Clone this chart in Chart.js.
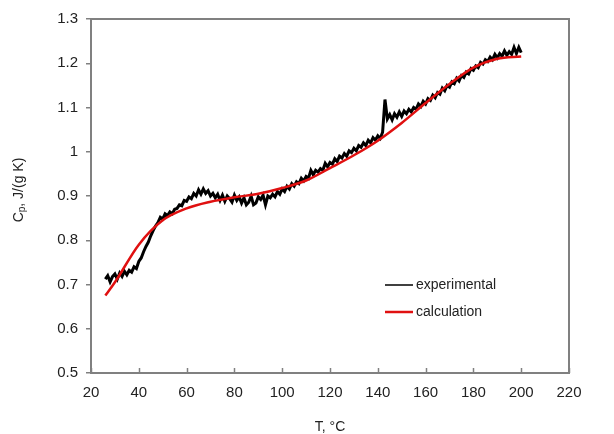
<!DOCTYPE html>
<html>
<head>
<meta charset="utf-8">
<script src="https://cdn.jsdelivr.net/npm/chart.js@4.4.1/dist/chart.umd.min.js"></script>
<style>
    html, body { margin: 0; padding: 0; background: #ffffff; }
    canvas { display: block; }
</style>
</head>
<body>
<canvas id="cpChart" width="614" height="434"></canvas>
<script>
// experimental run, sampled every 1 °C from 26 °C
const EXP_START_T = 26;
const expCp = [
    0.712, 0.720, 0.706, 0.718, 0.724, 0.712, 0.726, 0.718, 0.730, 0.722,
    0.732, 0.728, 0.740, 0.736, 0.752, 0.760, 0.774, 0.786, 0.796, 0.810,
    0.822, 0.832, 0.840, 0.852, 0.848, 0.860, 0.856, 0.864, 0.860, 0.870,
    0.872, 0.880, 0.878, 0.890, 0.888, 0.898, 0.894, 0.906, 0.900, 0.914,
    0.904, 0.916, 0.906, 0.912, 0.900, 0.906, 0.896, 0.904, 0.890, 0.902,
    0.888, 0.900, 0.894, 0.886, 0.902, 0.890, 0.898, 0.884, 0.896, 0.880,
    0.886, 0.900, 0.880, 0.884, 0.898, 0.892, 0.902, 0.880, 0.900, 0.896,
    0.904, 0.898, 0.910, 0.904, 0.916, 0.910, 0.922, 0.916, 0.928, 0.922,
    0.932, 0.928, 0.940, 0.934, 0.944, 0.940, 0.958, 0.948, 0.958, 0.954,
    0.962, 0.958, 0.974, 0.966, 0.976, 0.972, 0.984, 0.978, 0.990, 0.986,
    0.996, 0.990, 1.002, 0.998, 1.008, 1.002, 1.014, 1.010, 1.020, 1.014,
    1.026, 1.020, 1.032, 1.026, 1.036, 1.030, 1.044, 1.118, 1.074, 1.084,
    1.072, 1.086, 1.078, 1.090, 1.080, 1.092, 1.086, 1.096, 1.090, 1.100,
    1.096, 1.108, 1.102, 1.114, 1.108, 1.120, 1.116, 1.128, 1.122, 1.134,
    1.130, 1.144, 1.138, 1.150, 1.146, 1.158, 1.154, 1.166, 1.160, 1.172,
    1.168, 1.180, 1.176, 1.188, 1.184, 1.194, 1.190, 1.202, 1.198, 1.208,
    1.204, 1.214, 1.208, 1.220, 1.212, 1.222, 1.216, 1.228, 1.218, 1.226,
    1.220, 1.236, 1.222, 1.236, 1.224
];

// calculated curve
const calcT = [26, 30, 40, 50, 60, 70, 80, 90, 100, 110, 120, 130, 140, 150, 160, 170, 180, 190, 200];
const calcCp = [0.675, 0.705, 0.790, 0.845, 0.872, 0.887, 0.897, 0.905, 0.918, 0.935, 0.963, 0.992, 1.025, 1.065, 1.110, 1.153, 1.190, 1.210, 1.215];

const xTicks = [20, 40, 60, 80, 100, 120, 140, 160, 180, 200, 220];
const yTicks = [0.5, 0.6, 0.7, 0.8, 0.9, 1.0, 1.1, 1.2, 1.3];

const seriesNames = ["experimental", "calculation"];
const seriesColors = ["#000000", "#e01010"];

const AXIS_COLOR = "#808080";
const TEXT_COLOR = "#222222";
const FONT = "'Liberation Sans', Arial, sans-serif";

const expPoints = expCp.map((v, i) => ({ x: EXP_START_T + i, y: v }));
const calcPoints = calcT.map((t, i) => ({ x: t, y: calcCp[i] }));

// frame, inside x ticks, axis titles and legend
const decorPlugin = {
    id: "decor",
    afterDraw(chart) {
        const ctx = chart.ctx;
        const area = chart.chartArea;
        const xScale = chart.scales.x;
        ctx.save();

        ctx.strokeStyle = AXIS_COLOR;
        ctx.lineWidth = 2;
        ctx.beginPath();
        ctx.moveTo(area.left, area.top);
        ctx.lineTo(area.right, area.top);
        ctx.lineTo(area.right, area.bottom);
        ctx.stroke();

        ctx.lineWidth = 1.5;
        xTicks.forEach((t) => {
            const px = Math.round(xScale.getPixelForValue(t)) + 0.5;
            ctx.beginPath();
            ctx.moveTo(px, area.bottom);
            ctx.lineTo(px, area.bottom - 5);
            ctx.stroke();
        });

        ctx.fillStyle = TEXT_COLOR;
        ctx.font = "14px " + FONT;
        ctx.textAlign = "center";
        ctx.textBaseline = "middle";
        ctx.fillText("T, \u00B0C", 330, 427);

        // y title with subscript p
        ctx.translate(19, 190);
        ctx.rotate(-Math.PI / 2);
        const parts = [["C", 14, 0], ["p", 10, 3], [", J/(g K)", 14, 0]];
        let total = 0;
        parts.forEach(([t, s]) => { ctx.font = s + "px " + FONT; total += ctx.measureText(t).width; });
        let x = -total / 2;
        ctx.textAlign = "left";
        parts.forEach(([t, s, dy]) => {
            ctx.font = s + "px " + FONT;
            ctx.fillText(t, x, dy);
            x += ctx.measureText(t).width;
        });
        ctx.setTransform(1, 0, 0, 1, 0, 0);

        // legend
        ctx.font = "14px " + FONT;
        ctx.textAlign = "left";
        seriesNames.forEach((name, i) => {
            const y = 285 + i * 27;
            ctx.strokeStyle = seriesColors[i];
            ctx.lineWidth = i === 0 ? 1.5 : 2.5;
            ctx.beginPath();
            ctx.moveTo(385, y);
            ctx.lineTo(413, y);
            ctx.stroke();
            ctx.fillStyle = TEXT_COLOR;
            ctx.fillText(name, 416, y);
        });

        ctx.restore();
    },
};

new Chart(document.getElementById("cpChart"), {
    type: "line",
    data: {
        datasets: [
            {
                label: seriesNames[1],
                data: calcPoints,
                borderColor: seriesColors[1],
                borderWidth: 2.5,
                pointRadius: 0,
                cubicInterpolationMode: "monotone",
                order: 0,
            },
            {
                label: seriesNames[0],
                data: expPoints,
                borderColor: seriesColors[0],
                borderWidth: 3,
                borderJoinStyle: "miter",
                pointRadius: 0,
                tension: 0,
                order: 1,
            },
        ],
    },
    options: {
        responsive: false,
        animation: false,
        layout: {
            padding: { left: 0, right: 45, top: 19, bottom: 0 },
        },
        plugins: {
            legend: { display: false },
            tooltip: { enabled: false },
        },
        scales: {
            x: {
                type: "linear",
                min: 20,
                max: 220,
                afterBuildTicks: (scale) => { scale.ticks = xTicks.map((v) => ({ value: v })); },
                afterFit: (scale) => { scale.height = 61; },
                grid: { display: false, drawTicks: false },
                border: { color: AXIS_COLOR, width: 2 },
                ticks: { color: TEXT_COLOR, font: { family: FONT, size: 15 }, padding: 11, maxRotation: 0 },
            },
            y: {
                type: "linear",
                min: 0.5,
                max: 1.3,
                afterBuildTicks: (scale) => { scale.ticks = yTicks.map((v) => ({ value: v })); },
                afterFit: (scale) => { scale.width = 91; },
                grid: { drawOnChartArea: false, drawTicks: true, tickLength: 5, color: AXIS_COLOR, lineWidth: 1.5 },
                border: { color: AXIS_COLOR, width: 2 },
                ticks: {
                    color: TEXT_COLOR,
                    font: { family: FONT, size: 15 },
                    padding: 8,
                    callback: (v) => String(+v.toFixed(1)),
                },
            },
        },
    },
    plugins: [decorPlugin],
});
</script>
</body>
</html>
